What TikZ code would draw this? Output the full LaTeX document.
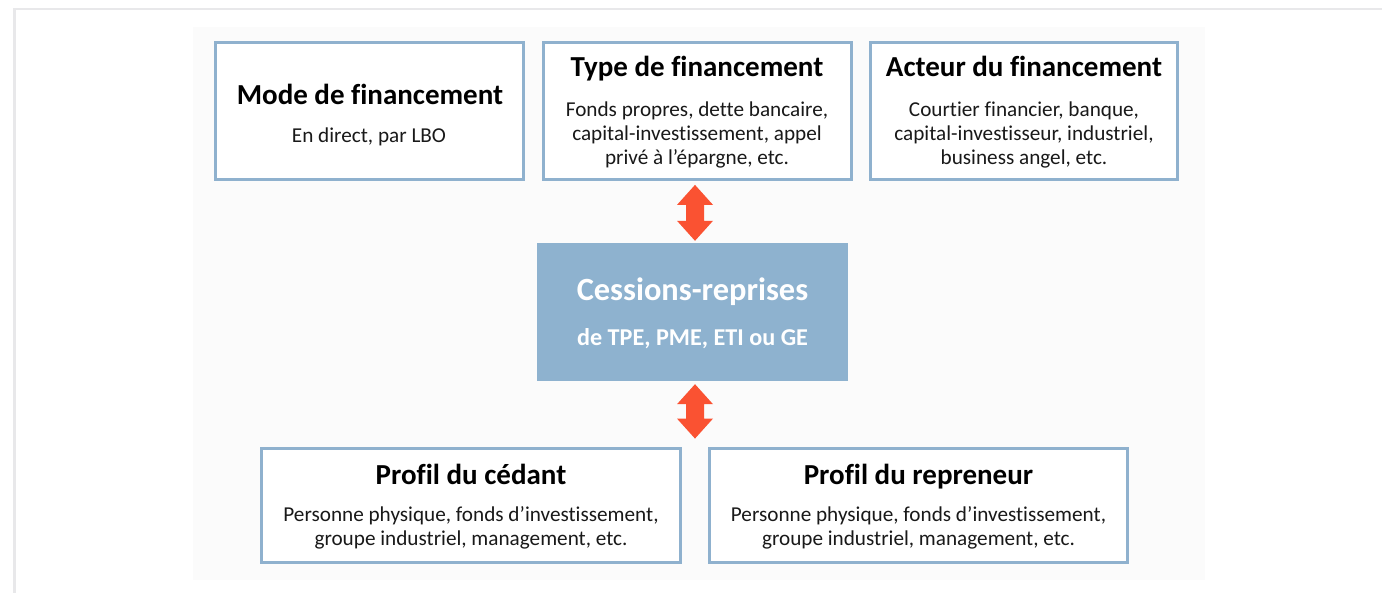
\documentclass[tikz,border=0pt]{standalone}
\usepackage{fontspec}
\setmainfont{Carlito}[Ligatures=NoCommon]
\usetikzlibrary{calc}

\definecolor{frameblue}{RGB}{143,177,206}
\definecolor{coreblue}{RGB}{142,178,207}
\definecolor{linkred}{RGB}{250,82,50}
\definecolor{pagerule}{RGB}{232,232,234}
\definecolor{panel}{RGB}{251,251,251}
\definecolor{bodyink}{RGB}{25,25,25}

\tikzset{
  infobox/.style={draw=frameblue, line width=3.8pt, fill=white, minimum height=137pt, inner sep=0pt},
  corebox/.style={fill=coreblue, minimum width=311pt, minimum height=138pt, inner sep=0pt},
  headtxt/.style={anchor=base, inner sep=0pt, font=\fontsize{29}{32}\selectfont\bfseries},
  % multi-line bodies are anchored on the baseline of their last line
  bodytxt/.style={anchor=base, inner sep=0pt, align=center, text=bodyink, font=\fontsize{21.2}{24}\selectfont},
  coretitle/.style={anchor=base, inner sep=0pt, text=white, font=\fontsize{32.4}{36}\selectfont\bfseries},
  coresub/.style={anchor=base, inner sep=0pt, text=white, font=\fontsize{24.2}{28}\selectfont\bfseries},
  linkfill/.style={fill=linkred}
}

\begin{document}
\begin{tikzpicture}[x=1pt, y=-1pt]
\useasboundingbox (0,0) rectangle (1382,593);

% page frame and panel
\fill[pagerule] (13,8) rectangle (1382,10.5);
\fill[pagerule] (13,8) rectangle (15.5,593);
\fill[panel] (193,27) rectangle (1205,580);

% top row
\node[infobox, minimum width=308pt] (mode) at (369.5,111) {};
\node[infobox, minimum width=308pt] (type) at (697.5,111) {};
\node[infobox, minimum width=307pt] (acteur) at (1024,111) {};

\node[headtxt] (mode-h) at (370,105) {Mode de financement};
\node[bodytxt] (mode-b) at (369,143) {En direct, par LBO};

\node[headtxt] (type-h) at (697,77) {Type de financement};
\node[bodytxt] (type-b) at (697,165) {Fonds propres, dette bancaire,\\capital-investissement, appel\\privé à l’épargne, etc.};

\node[headtxt] (acteur-h) at (1024,77) {Acteur du financement};
\node[bodytxt] (acteur-b) at (1024,165) {Courtier financier, banque,\\capital-investisseur, industriel,\\business angel, etc.};

% centre
\node[corebox] (core) at (692.5,312) {};
\node[coretitle] (core-h) at (692.5,301) {Cessions-reprises};
\node[coresub] (core-b) at (692.5,346) {de TPE, PME, ETI ou GE};

% bottom row
\node[infobox, minimum width=419pt, minimum height=114pt] (cedant) at (471,505.5) {};
\node[infobox, minimum width=418pt, minimum height=114pt] (repreneur) at (918.5,505.5) {};

\node[headtxt] (cedant-h) at (471,485) {Profil du cédant};
\node[bodytxt] (cedant-b) at (471,545) {Personne physique, fonds d’investissement,\\groupe industriel, management, etc.};

\node[headtxt] (repreneur-h) at (918.5,485) {Profil du repreneur};
\node[bodytxt] (repreneur-b) at (918.5,545) {Personne physique, fonds d’investissement,\\groupe industriel, management, etc.};

% two-way links
\coordinate (axis) at (695,0);
\coordinate (u1) at ($(type.south -| axis)+(0,3.5)$);
\coordinate (u2) at ($(core.north -| axis)+(0,-2)$);
\coordinate (l1) at ($(core.south -| axis)+(0,3)$);
\coordinate (l2) at ($(cedant.north -| axis)+(0,-8)$);

\fill[linkfill] (u1) -- ++(18,20) -- ++(-9,0) -- ($(u2)+(9,-20)$) -- ++(9,0)
  -- (u2) -- ++(-18,-20) -- ++(9,0) -- ($(u1)+(-9,20)$) -- ++(-9,0) -- cycle;
\fill[linkfill] (l1) -- ++(18,20) -- ++(-9,0) -- ($(l2)+(9,-20)$) -- ++(9,0)
  -- (l2) -- ++(-18,-20) -- ++(9,0) -- ($(l1)+(-9,20)$) -- ++(-9,0) -- cycle;
\end{tikzpicture}
\end{document}
